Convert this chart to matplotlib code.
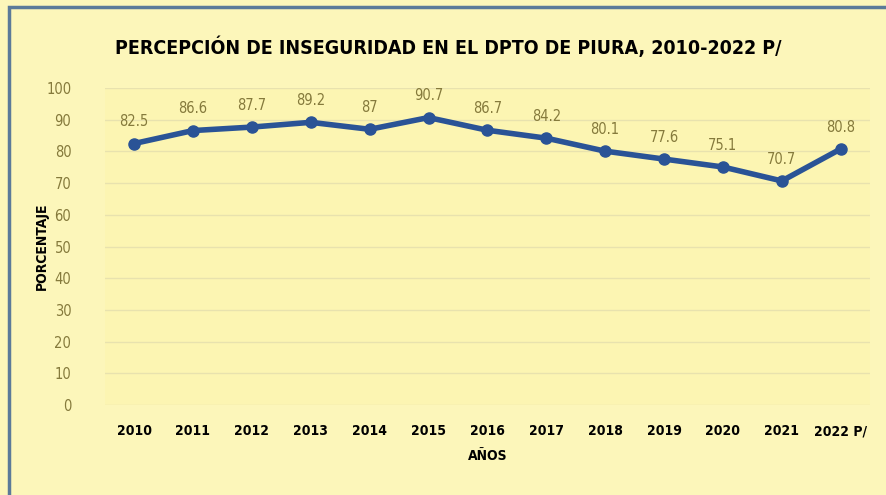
import numpy as np
import matplotlib.pyplot as plt

years = ['2010', '2011', '2012', '2013', '2014', '2015', '2016', '2017',
         '2018', '2019', '2020', '2021', '2022 P/']
valores = [82.5, 86.6, 87.7, 89.2, 87, 90.7, 86.7, 84.2, 80.1, 77.6, 75.1, 70.7, 80.8]
etiquetas = ['82.5', '86.6', '87.7', '89.2', '87', '90.7', '86.7', '84.2',
             '80.1', '77.6', '75.1', '70.7', '80.8']

fuente = ['DejaVu Sans']
fondo = '#fcf5b2'
oliva = '#857a3c'

fig = plt.figure(figsize=(8.87, 4.95), dpi=100)
fig.patch.set_facecolor('#fcf6ba')
ax = fig.add_axes([0.118, 0.182, 0.863, 0.64])
ax.set_facecolor(fondo)

x = np.arange(len(years))
ax.plot(x, valores, color='#2a5396', lw=4, marker='o', ms=8, zorder=3)
for xi, v, t in zip(x, valores, etiquetas):
    ax.text(xi, v + 4.5, t, ha='center', va='bottom', color=oliva,
            fontsize=10.5, family=fuente, stretch='condensed')

ax.set_xlim(-0.5, len(years) - 0.5)
ax.set_ylim(0, 100)
ax.set_yticks(range(0, 101, 10))
ax.grid(axis='y', color='#e8e2ae', lw=1)
ax.set_axisbelow(True)
for s in ax.spines.values():
    s.set_visible(False)
ax.tick_params(length=0)
ax.set_xticks(x)
ax.set_xticklabels(years, fontsize=10, fontweight='bold', family=fuente, stretch='condensed')
ax.tick_params(axis='x', pad=14)
for lab in ax.get_yticklabels():
    lab.set_color(oliva)
    lab.set_fontsize(10.5)
    lab.set_family(fuente)
    lab.set_stretch('condensed')
ax.tick_params(axis='y', pad=24)

ax.set_ylabel('PORCENTAJE', fontsize=10, fontweight='bold', family=fuente,
              stretch='condensed', labelpad=-2)
ax.set_xlabel('AÑOS', fontsize=10, fontweight='bold', family=fuente,
              stretch='condensed', labelpad=8)
fig.text(0.505, 0.905, 'PERCEPCIÓN DE INSEGURIDAD EN EL DPTO DE PIURA, 2010-2022 P/',
         ha='center', va='center', fontsize=14, fontweight='bold', family=fuente,
         stretch='condensed')

# marco
borde = plt.Rectangle((0.01, -0.05), 1.2, 1.035, transform=fig.transFigure,
                      fill=False, edgecolor='#5b7a99', lw=2.5)
fig.patches.append(borde)

fig.savefig('out.png', dpi=100, facecolor=fig.get_facecolor())
